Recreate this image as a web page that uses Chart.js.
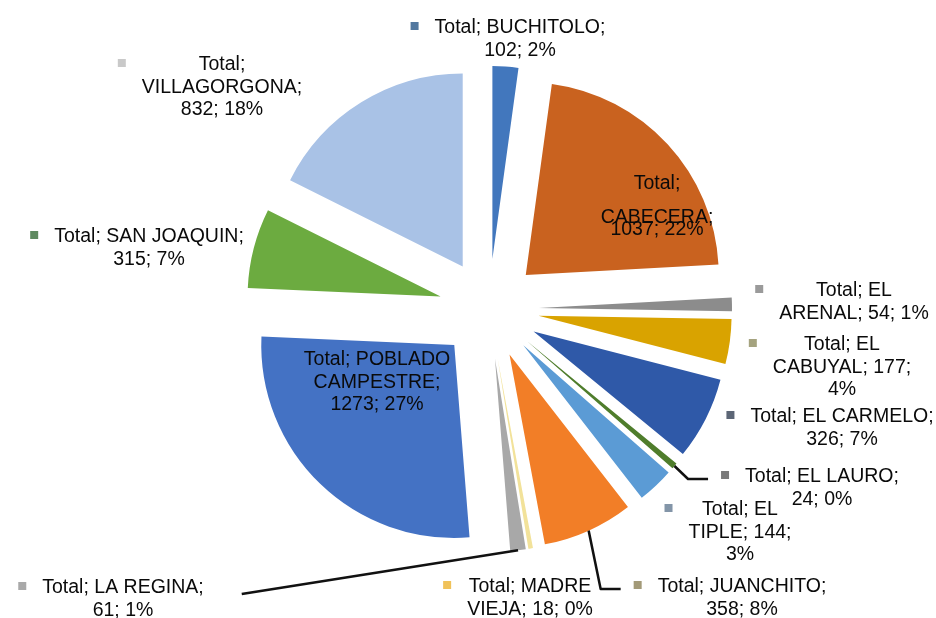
<!DOCTYPE html>
<html>
<head>
<meta charset="utf-8">
<title>Total por vereda</title>
<script src="https://cdn.jsdelivr.net/npm/chart.js@4.4.1/dist/chart.umd.min.js"></script>
<style>
  html, body { margin: 0; padding: 0; background: #ffffff; }
  #wrap { width: 936px; height: 618px; }
</style>
</head>
<body>
<div id="wrap"><canvas id="pie" width="936" height="618"></canvas></div>
<script>
// Population totals by locality
const seriesName = 'Total';
const localities = ['BUCHITOLO', 'CABECERA', 'EL ARENAL', 'EL CABUYAL', 'EL CARMELO', 'EL LAURO',
  'EL TIPLE', 'JUANCHITO', 'MADRE VIEJA', 'LA REGINA', 'POBLADO CAMPESTRE', 'SAN JOAQUIN', 'VILLAGORGONA'];
const totals = [102, 1037, 54, 177, 326, 24, 144, 358, 18, 61, 1273, 315, 832];
const shareLabels = ['2%', '22%', '1%', '4%', '7%', '0%', '3%', '8%', '0%', '1%', '27%', '7%', '18%'];

// Slice fills and the small legend keys beside each label
const sliceColors = ['#4277bd', '#c9621f', '#8c8c8c', '#d9a300', '#2f59a8', '#4f7d2c',
  '#5b9bd5', '#f27e27', '#f2e29a', '#a8a8a8', '#4472c4', '#6cab40', '#a9c2e6'];
const keyColors = ['#52789f', null, '#9a9a9a', '#a5a37f', '#5c6676', '#7a7a7a',
  '#8395a8', '#a39a78', '#f0c25a', '#a9a9a9', null, '#5f8a60', '#c9c9c9'];

// Label layout: block centre (first line) relative to the pie centre, wrap width,
// optional custom line offsets, and which side a leader line attaches to
const labelLayout = [
  { dx: 31,   dy: -281, wrap: 185 },
  { dx: 168,  dy: -125, wrap: 130, lines: [0, 34, 46] },
  { dx: 365,  dy: -18,  wrap: 155 },
  { dx: 353,  dy: 36,   wrap: 150 },
  { dx: 353,  dy: 108,  wrap: 195 },
  { dx: 333,  dy: 168,  wrap: 170, leader: 'key' },
  { dx: 251,  dy: 201,  wrap: 115 },
  { dx: 253,  dy: 278,  wrap: 185, leader: 'key' },
  { dx: 41,   dy: 278,  wrap: 135 },
  { dx: -366, dy: 279,  wrap: 175, leader: 'text' },
  { dx: -112, dy: 51,   wrap: 160 },
  { dx: -340, dy: -72,  wrap: 205 },
  { dx: -267, dy: -244, wrap: 180 }
];

const EXPLODE = 50;       // how far every slice is pulled out from the centre
const PIE_RADIUS = 193;
const FONT = '19.5px "Liberation Sans", Arial, sans-serif';
const LINE_H = 22.5;

function wrapWords(ctx, text, width) {
  const words = text.split(' ');
  const out = [];
  let cur = '';
  words.forEach(w => {
    const test = cur ? cur + ' ' + w : w;
    if (cur && ctx.measureText(test).width > width) {
      out.push(cur);
      cur = w;
    } else {
      cur = test;
    }
  });
  if (cur) out.push(cur);
  return out;
}

// Draw each arc shifted outwards along its own bisector
const explodedSlices = {
  id: 'explodedSlices',
  beforeDatasetDraw(chart, args) {
    const ctx = chart.ctx;
    args.meta.data.forEach(arc => {
      const mid = (arc.startAngle + arc.endAngle) / 2;
      ctx.save();
      ctx.translate(Math.cos(mid) * EXPLODE, Math.sin(mid) * EXPLODE);
      arc.draw(ctx);
      ctx.restore();
    });
    return false;
  }
};

// Data labels: "Total; NAME; value; share", with legend keys and leader lines
const sliceLabels = {
  id: 'sliceLabels',
  afterDatasetsDraw(chart) {
    const ctx = chart.ctx;
    const meta = chart.getDatasetMeta(0);
    const values = chart.data.datasets[0].data;
    ctx.save();
    ctx.font = FONT;
    ctx.textAlign = 'center';
    ctx.textBaseline = 'middle';
    meta.data.forEach((arc, i) => {
      const lay = labelLayout[i];
      const text = `${seriesName}; ${chart.data.labels[i]}; ${values[i]}; ${shareLabels[i]}`;
      const lines = wrapWords(ctx, text, lay.wrap);
      const cx = arc.x + lay.dx;
      const cy = arc.y + lay.dy;
      const maxW = Math.max(...lines.map(l => ctx.measureText(l).width));
      const left = cx - maxW / 2;
      const right = cx + maxW / 2;
      const keyX = left - 20;

      // leader line from the slice's outer edge
      if (lay.leader) {
        const mid = (arc.startAngle + arc.endAngle) / 2;
        const ox = arc.x + Math.cos(mid) * (EXPLODE + arc.outerRadius);
        const oy = arc.y + Math.sin(mid) * (EXPLODE + arc.outerRadius);
        ctx.beginPath();
        ctx.strokeStyle = '#111111';
        ctx.lineWidth = 2.5;
        ctx.lineJoin = 'round';
        ctx.moveTo(ox, oy);
        if (lay.leader === 'key') {
          ctx.lineTo(keyX - 37, cy + 2);
          ctx.lineTo(keyX - 17, cy + 2);
        } else {
          ctx.lineTo(right + 38, cy + 6);
        }
        ctx.stroke();
      }

      if (keyColors[i]) {
        ctx.fillStyle = keyColors[i];
        ctx.fillRect(keyX - 4, cy - 6, 8, 8);
      }
      ctx.fillStyle = '#0a0a0a';
      lines.forEach((l, k) => {
        const off = lay.lines ? lay.lines[k] : k * LINE_H;
        ctx.fillText(l, cx, cy + off);
      });
    });
    ctx.restore();
  }
};

new Chart(document.getElementById('pie'), {
  type: 'pie',
  data: {
    labels: localities,
    datasets: [{
      label: seriesName,
      data: totals,
      backgroundColor: sliceColors,
      borderWidth: 0,
      radius: PIE_RADIUS
    }]
  },
  options: {
    responsive: false,
    animation: false,
    devicePixelRatio: 1,
    layout: { padding: { left: 42, right: 0, top: 0, bottom: 0 } },
    plugins: {
      legend: { display: false },
      tooltip: { enabled: false }
    }
  },
  plugins: [explodedSlices, sliceLabels]
});
</script>
</body>
</html>
